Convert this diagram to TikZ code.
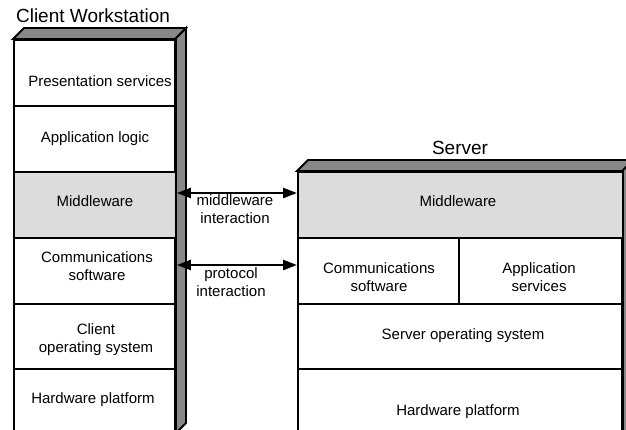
\documentclass[tikz,border=0pt]{standalone}
\usepackage{fontspec}
\setmainfont{Liberation Sans}
\usetikzlibrary{arrows.meta}
\definecolor{sidegrey}{HTML}{888888}
\definecolor{mwgrey}{HTML}{DCDCDC}
\begin{document}
\begin{tikzpicture}[x=1pt,y=-1pt,line join=miter,
  layer/.style={draw=black,line width=1.8pt,rectangle,inner sep=0pt,anchor=north west},
  lbl/.style={font=\fontsize{15}{18}\selectfont,align=center,anchor=base,inner sep=0pt},
  ttl/.style={font=\fontsize{19}{22}\selectfont,anchor=base,inner sep=0pt},
  face/.style={draw=black,line width=1.8pt,fill=sidegrey},
  biarrow/.style={{Triangle[length=14pt,width=10pt]}-{Triangle[length=14pt,width=10pt]},line width=2.5pt}]
\useasboundingbox (0,0) rectangle (626,430);
\clip (0,0) rectangle (626,430);
% client workstation
\draw[face] (175,39) -- (186,28) -- (186,423) -- (175,434) -- cycle;
\draw[face] (13,39) -- (24,28) -- (186,28) -- (175,39) -- cycle;
\node[layer,minimum width=162pt,minimum height=66pt] (cpres) at (13,39) {};
\node[layer,minimum width=162pt,minimum height=66pt] (capp) at (13,105) {};
\node[layer,minimum width=162pt,minimum height=66pt,fill=mwgrey] (cmw) at (13,171) {};
\node[layer,minimum width=162pt,minimum height=66pt] (ccomm) at (13,237) {};
\node[layer,minimum width=162pt,minimum height=65pt] (cos) at (13,303) {};
\node[layer,minimum width=162pt,minimum height=66pt] (chw) at (13,368) {};
% server
\draw[face] (622,171) -- (633,160) -- (633,440) -- (622,440) -- cycle;
\draw[face] (297,171) -- (308,160) -- (633,160) -- (622,171) -- cycle;
\node[layer,minimum width=325pt,minimum height=66pt,fill=mwgrey] (smw) at (297,171) {};
\node[layer,minimum width=161pt,minimum height=66pt] (scomm) at (297,237) {};
\node[layer,minimum width=164pt,minimum height=66pt] (sapp) at (458,237) {};
\node[layer,minimum width=325pt,minimum height=65pt] (sos) at (297,303) {};
\node[layer,minimum width=325pt,minimum height=72pt] (shw) at (297,368) {};
% titles
\node[ttl] (tclient) at (93,23) {Client Workstation};
\node[ttl] (tserver) at (460,155) {Server};
% client texts
\node[lbl] (lpres) at (100,87) {Presentation services};
\node[lbl] (lapp) at (95,143) {Application logic};
\node[lbl] (lcmw) at (95,207) {Middleware};
\node[lbl] (lccomm) at (97,280) {Communications\\software};
\node[lbl] (lcos) at (96,352) {Client\\ operating system};
\node[lbl] (lchw) at (93,403) {Hardware platform};
% server texts
\node[lbl] (lsmw) at (458,207) {Middleware};
\node[lbl] (lscomm) at (379,291) {Communications\\software};
\node[lbl] (lsapp) at (539,291) {Application\\services};
\node[lbl] (lsos) at (463,339) {Server operating system};
\node[lbl] (lshw) at (458,415) {Hardware platform};
% interactions
\coordinate (y1) at (0,193);
\coordinate (y2) at (0,265);
\draw[biarrow] (cmw.east |- y1) -- (smw.west |- y1);
\draw[biarrow] (ccomm.east |- y2) -- (scomm.west |- y2);
\node[lbl] (lmwi) at (235,224) {middleware\\interaction};
\node[lbl] (lpri) at (231,296) {protocol\\interaction};
\end{tikzpicture}
\end{document}
